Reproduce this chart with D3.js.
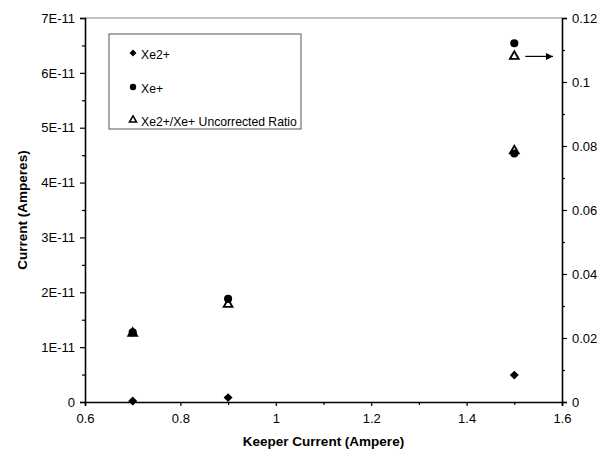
<!DOCTYPE html>
<html><head><meta charset="utf-8">
<script src="https://cdn.jsdelivr.net/npm/d3@7"></script>
<style>body{margin:0;background:#fff}svg{display:block}</style>
</head><body>
<svg id="c" width="603" height="460"></svg>
<script>
// Data
const xe2X = [0.7, 0.9, 1.5];
const xe2Y = [0.02e-11, 0.08e-11, 0.49e-11];
const xeX = [0.7, 0.9, 1.5, 1.5];
const xeY = [1.27e-11, 1.88e-11, 6.54e-11, 4.53e-11];
const ratioX = [0.7, 0.9, 1.5, 1.5];
const ratioY = [0.0215, 0.0305, 0.108, 0.0785];
const xTicks = [0.6, 0.8, 1, 1.2, 1.4, 1.6];
const yLeftTicks = [0, 1e-11, 2e-11, 3e-11, 4e-11, 5e-11, 6e-11, 7e-11];
const yLeftLabels = ["0", "1E-11", "2E-11", "3E-11", "4E-11", "5E-11", "6E-11", "7E-11"];
const yRightTicks = [0, 0.02, 0.04, 0.06, 0.08, 0.1, 0.12];
const yRightLabels = ["0", "0.02", "0.04", "0.06", "0.08", "0.1", "0.12"];
const legendLabels = ["Xe2+", "Xe+", "Xe2+/Xe+ Uncorrected Ratio"];

const svg = d3.select("#c");
const L = 85, R = 562, T = 18, B = 402;
const x = d3.scaleLinear().domain([0.6, 1.6]).range([L, R]);
const yL = d3.scaleLinear().domain([0, 7e-11]).range([B, T]);
const yR = d3.scaleLinear().domain([0, 0.12]).range([B, T]);
const font = "Liberation Sans, Arial, sans-serif";

// top border
svg.append("line").attr("x1", L).attr("x2", R).attr("y1", T).attr("y2", T)
  .attr("stroke", "#888").attr("stroke-width", 1);

// Left axis
svg.append("g").attr("transform", `translate(${L},0)`)
  .call(d3.axisLeft(yL).tickValues(yLeftTicks).tickFormat((d, i) => yLeftLabels[i]).tickSize(5).tickPadding(5));
svg.append("g").attr("transform", `translate(${L},0)`)
  .call(d3.axisLeft(yL).tickValues(d3.range(0.5e-11, 7e-11, 1e-11)).tickFormat("").tickSize(3))
  .select(".domain").remove();
// Right axis
svg.append("g").attr("transform", `translate(${R},0)`)
  .call(d3.axisRight(yR).tickValues(yRightTicks).tickFormat((d, i) => yRightLabels[i]).tickSize(5).tickPadding(5));
svg.append("g").attr("transform", `translate(${R},0)`)
  .call(d3.axisRight(yR).tickValues(d3.range(0.01, 0.12, 0.02)).tickFormat("").tickSize(3))
  .select(".domain").remove();
// Bottom axis
svg.append("g").attr("transform", `translate(0,${B})`)
  .call(d3.axisBottom(x).tickValues(xTicks).tickFormat(d => d3.format("")(d)).tickSize(4).tickPadding(8));
svg.append("g").attr("transform", `translate(0,${B})`)
  .call(d3.axisBottom(x).tickValues([0.7, 0.9, 1.1, 1.3, 1.5]).tickFormat("").tickSize(3))
  .select(".domain").remove();

svg.selectAll(".domain").attr("stroke", "#000").attr("stroke-width", 1.6);
svg.selectAll(".tick line").attr("stroke", "#000").attr("stroke-width", 1.2);
svg.selectAll(".tick text").attr("font-family", font).attr("font-size", 13).attr("fill", "#000");

// Axis titles
svg.append("text").attr("x", (L + R) / 2).attr("y", 446).attr("text-anchor", "middle")
  .attr("font-family", font).attr("font-weight", "bold").attr("font-size", 13.5).text("Keeper Current (Ampere)");
svg.append("text").attr("transform", `translate(27,${(T + B) / 2}) rotate(-90)`).attr("text-anchor", "middle")
  .attr("font-family", font).attr("font-weight", "bold").attr("font-size", 13.5).text("Current (Amperes)");

// Markers
const diamond = d3.symbol().type(d3.symbolSquare).size(40);
const circle = d3.symbol().type(d3.symbolCircle).size(52);
const tri = d3.symbol().type(d3.symbolTriangle).size(34);

svg.append("g").selectAll("path").data(xeX.map((v, i) => [v, xeY[i]])).join("path")
  .attr("d", circle).attr("transform", d => `translate(${x(d[0])},${yL(d[1])})`).attr("fill", "#000");
svg.append("g").selectAll("path").data(xe2X.map((v, i) => [v, xe2Y[i]])).join("path")
  .attr("d", diamond).attr("transform", d => `translate(${x(d[0])},${yL(d[1])}) rotate(45)`).attr("fill", "#000");
svg.append("g").selectAll("path").data(ratioX.map((v, i) => [v, ratioY[i]])).join("path")
  .attr("d", tri).attr("transform", d => `translate(${x(d[0])},${yR(d[1])})`)
  .attr("fill", "none").attr("stroke", "#000").attr("stroke-width", 1.8);

// Arrow to right axis
svg.append("defs").append("marker").attr("id", "ah").attr("viewBox", "0 0 10 10")
  .attr("refX", 10).attr("refY", 5).attr("markerWidth", 10).attr("markerHeight", 7)
  .attr("markerUnits", "userSpaceOnUse").attr("orient", "auto")
  .append("path").attr("d", "M0,0L10,5L0,10z").attr("fill", "#000");
svg.append("line").attr("x1", x(1.5) + 11).attr("x2", R - 9)
  .attr("y1", yR(ratioY[2])).attr("y2", yR(ratioY[2]))
  .attr("stroke", "#000").attr("stroke-width", 1.2).attr("marker-end", "url(#ah)");

// Legend
const lg = svg.append("g");
lg.append("rect").attr("x", 109).attr("y", 34).attr("width", 192).attr("height", 95)
  .attr("fill", "#fff").attr("stroke", "#555").attr("stroke-width", 1);
const lgY = [54, 88, 121];
legendLabels.forEach((t, i) => {
  const p = lg.append("path");
  if (i === 0) p.attr("d", d3.symbol().type(d3.symbolSquare).size(24)).attr("transform", `translate(133,${lgY[i] - 1}) rotate(45)`).attr("fill", "#000");
  else if (i === 1) p.attr("d", d3.symbol().type(d3.symbolCircle).size(32)).attr("transform", `translate(133,${lgY[i] - 1})`).attr("fill", "#000");
  else p.attr("d", d3.symbol().type(d3.symbolTriangle).size(22)).attr("transform", `translate(133,${lgY[i] - 1})`)
    .attr("fill", "none").attr("stroke", "#000").attr("stroke-width", 1.5);
  lg.append("text").attr("x", 141).attr("y", lgY[i] + 4.5).attr("font-family", font).attr("font-size", 12.2).text(t);
});
</script>
</body></html>
